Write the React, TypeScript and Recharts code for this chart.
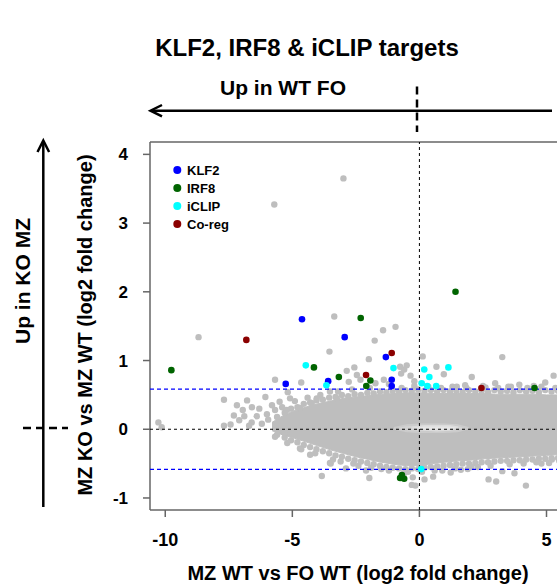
import React from "react";
import { ComposedChart, Scatter, XAxis, YAxis, ReferenceLine } from "recharts";

const FONT = "'Liberation Sans', Arial, Helvetica, sans-serif";

// Axes
const xTicks = [-10, -5, 0, 5];
const yTicks = [-1, 0, 1, 2, 3, 4];
const xDomain: [number, number] = [-10.6, 6.2];
const yDomain: [number, number] = [-1.175, 4.18];
const foldThreshold = 0.585; // log2(1.5)

// Dense body of the gene cloud (x, lower edge, upper edge)
const cloudX = [-5.8, -5.4, -5.0, -4.5, -4.0, -3.5, -3.0, -2.5, -2.0, -1.5, -1.0, -0.5, 0.0, 0.5, 1.0, 1.5, 2.0, 2.5, 3.0, 3.5, 4.0, 4.5, 5.0, 5.5, 6.2];
const cloudHigh = [0.1, 0.19, 0.26, 0.32, 0.37, 0.41, 0.45, 0.47, 0.49, 0.51, 0.52, 0.53, 0.53, 0.52, 0.52, 0.52, 0.52, 0.52, 0.51, 0.51, 0.51, 0.51, 0.5, 0.5, 0.5];
const cloudLow = [-0.02, -0.08, -0.12, -0.18, -0.24, -0.3, -0.35, -0.4, -0.44, -0.48, -0.51, -0.53, -0.53, -0.5, -0.48, -0.46, -0.45, -0.43, -0.42, -0.41, -0.4, -0.39, -0.38, -0.37, -0.36];

// Lighter streak where the genes are densest
const coreX = [-1.0, -0.5, 0.0, 0.5, 1.0, 1.5, 1.9];
const coreHigh = [0.02, 0.06, 0.07, 0.07, 0.07, 0.06, 0.02];
const coreLow = [0.01, -0.03, -0.04, -0.04, -0.04, -0.03, 0.01];
const coreInnerX = [-0.3, 0.2, 0.7, 1.2, 1.5];
const coreInnerHigh = [0.03, 0.05, 0.05, 0.05, 0.03];
const coreInnerLow = [0.02, -0.01, -0.02, -0.01, 0.02];

// Genes along the upper and lower rim of the cloud
const cloudTopRim: [number, number][] = [
  [-5.6, 0.18], [-5.3, 0.24], [-5.05, 0.3], [-4.8, 0.32], [-4.55, 0.37], [-4.3, 0.39], [-4.05, 0.42], [-3.8, 0.43],
  [-3.55, 0.46], [-3.3, 0.47], [-3.05, 0.5], [-2.8, 0.48], [-2.55, 0.51], [-2.3, 0.5], [-2.05, 0.53], [-1.8, 0.52],
  [-1.55, 0.55], [-1.3, 0.54], [-1.05, 0.56], [-0.8, 0.55], [-0.55, 0.57], [-0.3, 0.56], [-0.05, 0.58], [0.2, 0.56],
  [0.45, 0.57], [0.7, 0.55], [0.95, 0.57], [1.2, 0.55], [1.45, 0.56], [1.7, 0.54], [1.95, 0.57], [2.2, 0.55],
  [2.45, 0.56], [2.7, 0.54], [2.95, 0.57], [3.2, 0.55], [3.45, 0.56], [3.7, 0.54], [3.95, 0.57], [4.2, 0.55],
  [4.45, 0.56], [4.7, 0.54], [4.95, 0.57], [5.2, 0.55], [5.45, 0.56], [5.7, 0.54], [5.95, 0.57], [6.15, 0.55],
];
const cloudTopOuter: [number, number][] = [
  [-5.4, 0.32], [-4.9, 0.41], [-4.4, 0.46], [-3.9, 0.5], [-3.2, 0.55], [-2.65, 0.58], [-1.95, 0.6], [-1.1, 0.62],
  [-0.7, 0.6], [-0.2, 0.63], [0.35, 0.62], [0.85, 0.6], [1.3, 0.62], [1.85, 0.6], [2.6, 0.61], [3.1, 0.6],
  [3.6, 0.62], [4.25, 0.6], [4.8, 0.62], [5.35, 0.6], [5.9, 0.62],
];
const cloudBottomRim: [number, number][] = [
  [-5.6, -0.08], [-5.3, -0.12], [-5.05, -0.16], [-4.8, -0.19], [-4.55, -0.23], [-4.3, -0.26], [-4.05, -0.29], [-3.8, -0.32],
  [-3.55, -0.35], [-3.3, -0.38], [-3.05, -0.4], [-2.8, -0.43], [-2.55, -0.45], [-2.3, -0.47], [-2.05, -0.49], [-1.8, -0.51],
  [-1.55, -0.53], [-1.3, -0.55], [-1.05, -0.56], [-0.8, -0.57], [-0.55, -0.58], [-0.3, -0.57], [-0.05, -0.58], [0.2, -0.56],
  [0.45, -0.55], [0.7, -0.54], [0.95, -0.53], [1.2, -0.52], [1.45, -0.51], [1.7, -0.5], [1.95, -0.5], [2.2, -0.49],
  [2.45, -0.48], [2.7, -0.48], [2.95, -0.47], [3.2, -0.46], [3.45, -0.46], [3.7, -0.45], [3.95, -0.45], [4.2, -0.44],
  [4.45, -0.44], [4.7, -0.43], [4.95, -0.43], [5.2, -0.42], [5.45, -0.42], [5.7, -0.41], [5.95, -0.41], [6.15, -0.4],
];
const cloudBottomOuter: [number, number][] = [
  [-5.2, -0.2], [-4.7, -0.28], [-4.1, -0.35], [-3.4, -0.44], [-2.6, -0.5], [-1.9, -0.56], [-1.2, -0.6], [-0.45, -0.62],
  [0.1, -0.62], [0.6, -0.6], [1.4, -0.57], [2.05, -0.55], [2.8, -0.53], [3.55, -0.51], [4.1, -0.5], [4.6, -0.48],
  [5.1, -0.49], [5.65, -0.47], [6.1, -0.46],
];

// Scattered genes outside the dense cloud
const otherGenes: [number, number][] = [
  [-10.27, 0.1], [-10.14, 0.03], [-8.69, 1.34], [-5.71, 3.27], [-2.99, 3.65],
  [-7.69, 0.43], [-7.18, 0.35], [-6.78, 0.42], [-6.59, 0.32], [-6.06, 0.47], [-5.68, 0.72],
  [-7.69, 0.05], [-7.43, 0.07], [-7.09, 0.13], [-6.89, 0.19], [-6.6, 0.1], [-6.4, 0.19], [-6.2, 0.08],
  [-7.3, 0.2], [-6.95, 0.28], [-6.7, 0.05], [-6.3, 0.3], [-6.0, 0.22], [-5.8, 0.35], [-5.5, 0.4], [-5.3, -0.05],
  [-5.95, 0.14], [-5.68, -0.11], [-5.68, 0.28], [-5.09, 0.45], [-5.22, 0.28], [-4.7, 0.31], [-4.24, 0.38],
  [-4.04, 0.45], [-3.52, 0.55], [-3.25, 0.45], [-5.18, 0.54], [-4.65, 0.68], [-3.54, 1.13], [-3.35, 1.64],
  [-2.86, 0.85], [-2.56, 0.9], [-2.46, 0.79], [-2.32, 0.72], [-2.78, 0.69], [-1.99, 1.02], [-1.76, 1.29],
  [-1.43, 1.44], [-0.94, 1.49], [-1.73, 0.67], [-0.76, 0.91], [-0.6, 0.87], [-0.72, 0.81], [-0.5, 0.93],
  [-0.35, 0.78], [-0.2, 0.7], [-1.4, 0.72], [-1.2, 0.66], [0.13, 1.06], [0.67, 0.91], [0.96, 0.8],
  [1.47, 0.62], [2.06, 0.76], [2.98, 0.67], [3.26, 1.05], [3.93, 0.65], [4.95, 0.68], [5.28, 0.78],
  [1.8, 0.64], [2.5, 0.63], [3.5, 0.62], [4.5, 0.63], [5.6, 0.64],
  [-4.65, -0.29], [-4.3, -0.37], [-3.52, -0.49], [-3.84, -0.68], [-3.49, -0.5], [-2.89, -0.57], [-2.4, -0.53],
  [-1.97, -0.71], [-0.26, -0.7], [-0.3, -0.81], [-0.16, -0.82], [0.2, -0.73], [0.54, -0.69], [1.23, -0.63],
  [1.63, -0.59], [2.72, -0.73], [3.02, -0.76], [4.19, -0.82], [3.74, -0.64], [3.26, -0.61], [5.21, -0.44],
  [1.9, -0.58], [2.3, -0.55], [0.9, -0.6], [-0.6, -0.64], [-1.5, -0.58], [-2.1, -0.6], [-3.1, -0.47],
  [4.8, -0.5], [5.5, -0.46],
];

// Highlighted target genes
const klf2Points: [number, number][] = [
  [-4.62, 1.6], [-2.94, 1.34], [-1.32, 1.05], [-3.59, 0.7], [-5.26, 0.66], [-1.09, 0.72], [-1.09, 0.63],
];
const irf8Points: [number, number][] = [
  [-9.76, 0.86], [-2.31, 1.62], [1.42, 2.0], [-4.15, 0.9], [-3.17, 0.76], [-1.93, 0.71], [-2.09, 0.63],
  [4.53, 0.6], [-0.69, -0.665], [-0.6, -0.72], [-0.76, -0.71],
];
const iclipPoints: [number, number][] = [
  [-4.47, 0.93], [-1.02, 0.89], [0.19, 0.87], [1.14, 0.9], [0.39, 0.76], [0.09, 0.67], [0.31, 0.63],
  [0.66, 0.63], [-3.66, 0.64], [0.07, -0.58],
];
const coregPoints: [number, number][] = [[-6.81, 1.3], [-1.09, 1.11], [-2.1, 0.79], [2.44, 0.6]];

const targetSeries = [
  { name: "KLF2", color: "#0000ff", points: klf2Points },
  { name: "IRF8", color: "#006400", points: irf8Points },
  { name: "iCLIP", color: "#00ffff", points: iclipPoints },
  { name: "Co-reg", color: "#8b0000", points: coregPoints },
];

// Dashed guide lines: zero lines and the ±1.5-fold cut-offs
const guideLines = [
  { key: "y0", color: "#000", width: 1, dash: "3 3", pts: [[xDomain[0], 0], [xDomain[1], 0]] as [number, number][] },
  { key: "x0", color: "#000", width: 1, dash: "3 3", pts: [[0, yDomain[0]], [0, yDomain[1]]] as [number, number][] },
  { key: "up", color: "#0000ff", width: 1.2, dash: "4 3", pts: [[xDomain[0], foldThreshold], [xDomain[1], foldThreshold]] as [number, number][] },
  { key: "down", color: "#0000ff", width: 1.2, dash: "4 3", pts: [[xDomain[0], -foldThreshold], [xDomain[1], -foldThreshold]] as [number, number][] },
];

const toXY = (pts: [number, number][]) => pts.map(([x, y]) => ({ x, y }));
// outline of a band: upper edge left to right, then lower edge back
const bandOutline = (xs: number[], hi: number[], lo: number[]) => [
  ...xs.map((x, i) => ({ x, y: hi[i] })),
  ...xs.map((x, i) => ({ x, y: lo[i] })).reverse(),
];

const dot = (fill: string, r = 3.2) => (p: any) =>
  p.cx == null ? <g /> : <circle cx={p.cx} cy={p.cy} r={r} fill={fill} stroke="none" />;
const noDot = () => <g />;

const tickStyle = { fill: "#000", fontSize: 18, fontWeight: "bold" as const, fontFamily: FONT };
const frame = { stroke: "#666", strokeWidth: 1.5 };
const GREY = "#bebebe";

export default function App() {
  return (
    <div style={{ position: "relative", width: 557, height: 584, overflow: "hidden", background: "#fff" }}>
      <style>{"body{margin:0}"}</style>

      <ComposedChart width={600} height={584} margin={{ top: 142, right: 23, bottom: 44, left: 90 }}>
        <XAxis
          type="number"
          dataKey="x"
          domain={xDomain}
          ticks={xTicks}
          allowDataOverflow
          height={30}
          tickSize={7}
          tickMargin={16}
          tick={tickStyle}
          axisLine={frame}
          tickLine={frame}
        />
        <YAxis
          type="number"
          domain={yDomain}
          ticks={yTicks}
          allowDataOverflow
          width={60}
          tickSize={7}
          tickMargin={15}
          tick={{ ...tickStyle, fontSize: 17 }}
          axisLine={frame}
          tickLine={frame}
        />
        <ReferenceLine y={yDomain[1]} {...frame} />

        {/* filled cloud body and its lighter core */}
        <Scatter
          data={bandOutline(cloudX, cloudHigh, cloudLow)}
          dataKey="y"
          shape={noDot}
          line={{ fill: GREY, stroke: GREY, strokeWidth: 1 }}
          isAnimationActive={false}
        />
        <Scatter
          data={bandOutline(coreX, coreHigh, coreLow)}
          dataKey="y"
          shape={noDot}
          line={{ fill: "#d3d3d3", stroke: "#cbcbcb", strokeWidth: 2 }}
          isAnimationActive={false}
        />
        <Scatter
          data={bandOutline(coreInnerX, coreInnerHigh, coreInnerLow)}
          dataKey="y"
          shape={noDot}
          line={{ fill: "#e6e6e6", stroke: "#dcdcdc", strokeWidth: 1.5 }}
          isAnimationActive={false}
        />

        {/* individual background genes */}
        <Scatter data={toXY(cloudTopRim)} dataKey="y" shape={dot(GREY)} isAnimationActive={false} />
        <Scatter data={toXY(cloudTopOuter)} dataKey="y" shape={dot(GREY)} isAnimationActive={false} />
        <Scatter data={toXY(cloudBottomRim)} dataKey="y" shape={dot(GREY)} isAnimationActive={false} />
        <Scatter data={toXY(cloudBottomOuter)} dataKey="y" shape={dot(GREY)} isAnimationActive={false} />
        <Scatter data={toXY(otherGenes)} dataKey="y" shape={dot(GREY)} isAnimationActive={false} />

        {guideLines.map((g) => (
          <Scatter
            key={g.key}
            data={toXY(g.pts)}
            dataKey="y"
            shape={noDot}
            line={{ stroke: g.color, strokeWidth: g.width, strokeDasharray: g.dash, fill: "none" }}
            isAnimationActive={false}
          />
        ))}

        {targetSeries.map((s) => (
          <Scatter
            key={s.name}
            name={s.name}
            data={toXY(s.points)}
            dataKey="y"
            shape={dot(s.color, 3.3)}
            isAnimationActive={false}
          />
        ))}
      </ComposedChart>

      <svg
        width={557}
        height={584}
        style={{ position: "absolute", left: 0, top: 0, pointerEvents: "none" }}
        fontFamily={FONT}
        fontWeight="bold"
      >
        <text x={307} y={56} textAnchor="middle" fontSize={24}>KLF2, IRF8 &amp; iCLIP targets</text>

        {/* direction hint above the plot */}
        <text x={283} y={95} textAnchor="middle" fontSize={21}>Up in WT FO</text>
        <line x1={151} y1={110.7} x2={552} y2={110.7} stroke="#000" strokeWidth={2.5} />
        <polyline points="162,105 150.5,110.7 162,116.4" fill="none" stroke="#000" strokeWidth={2.5} />
        <line x1={417} y1={86.5} x2={417} y2={132} stroke="#000" strokeWidth={2.5} strokeDasharray="8 5" />

        {/* direction hint left of the plot */}
        <text x={30} y={281} textAnchor="middle" fontSize={21} transform="rotate(-90 30 281)">Up in KO MZ</text>
        <line x1={43.3} y1={507} x2={43.3} y2={141} stroke="#000" strokeWidth={2.5} />
        <polyline points="37.5,152 43.3,140.5 49.1,152" fill="none" stroke="#000" strokeWidth={2.5} />
        <line x1={23} y1={428} x2={68} y2={428} stroke="#000" strokeWidth={2.5} strokeDasharray="8 5" />

        {/* axis titles */}
        <text x={92} y={325} textAnchor="middle" fontSize={20} transform="rotate(-90 92 325)">
          MZ KO vs MZ WT (log2 fold change)
        </text>
        <text x={358} y={580} textAnchor="middle" fontSize={20}>MZ WT vs FO WT (log2 fold change)</text>

        {/* legend */}
        {targetSeries.map((s, i) => (
          <g key={s.name}>
            <circle cx={177.3} cy={170 + i * 18} r={4} fill={s.color} />
            <text x={187} y={170 + i * 18} dy="0.36em" fontSize={13}>{s.name}</text>
          </g>
        ))}
      </svg>
    </div>
  );
}
